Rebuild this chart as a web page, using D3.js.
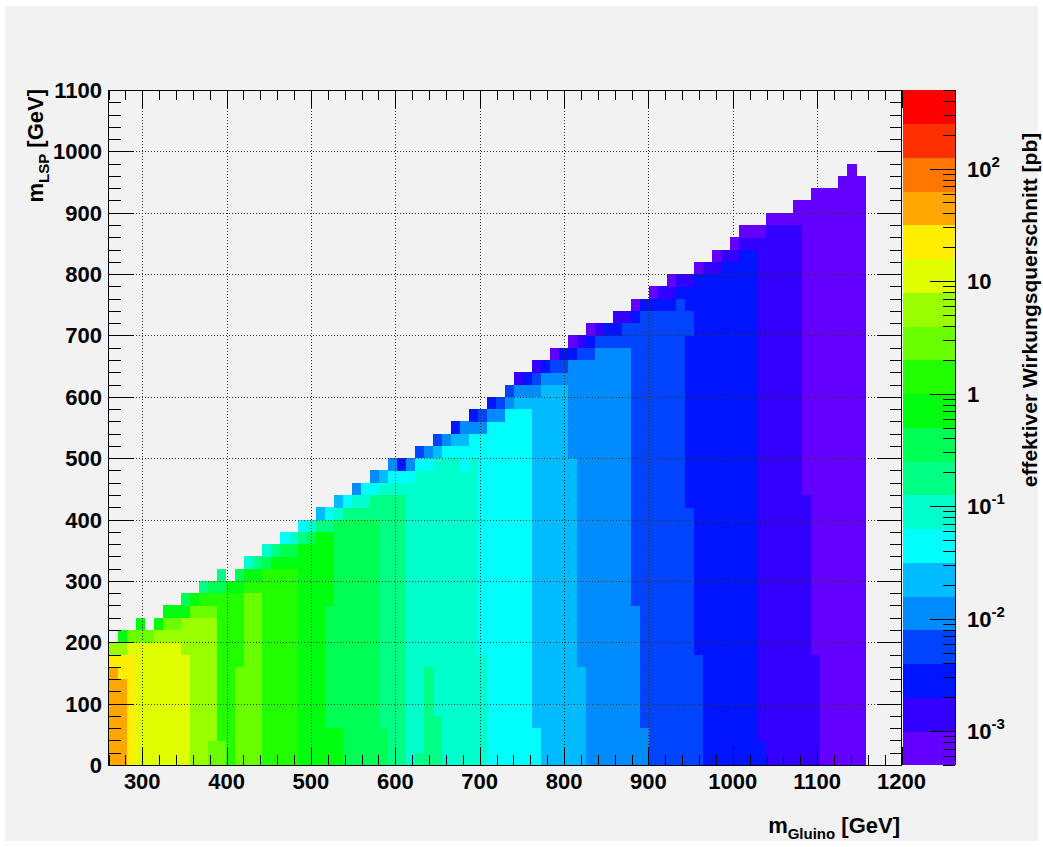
<!DOCTYPE html>
<html><head><meta charset="utf-8">
<script src="https://cdn.jsdelivr.net/npm/d3@7"></script>
<style>body{margin:0;background:#fff}svg{display:block}text{font-family:"Liberation Sans",Arial,Helvetica,sans-serif;font-weight:bold;fill:#000}</style>
</head><body><svg id="c" width="1043" height="847"></svg>
<script>
// ---------------- data ----------------
const xBinRange = [260, 1200];      // m_Gluino histogram range [GeV]
const nBinsX = 88;                   // x bins
const yBinWidth = 20;                // m_LSP bin width [GeV]
const zRange = [5e-4, 500];          // colour axis range [pb]
const nContours = 20;
const levelLetters = "abcdefghijklmnopqrst"; // a = lowest contour band ... t = highest
// one string per m_Gluino bin: runs of (band letter, number of 20 GeV bins) from m_LSP = 0 upwards
const columnRuns = [
 "q8p1n1","q7p2n1k1","p9o1m1","o10m1k1","o10m1","o10n1k1","o10n1m1k1","o10n1m1k1",
 "o9n3k1j1","n12m1k1","n12m1l1i1","m2n10m1l1j1","m2l12j1i1","l14k1","m8l6k1j1","m14l1k1h1",
 "m14l1k1i1","l16j1h1","l16k1i1","l16k1j1g1","l16k1j1h1","k18i1g1","k18j1h1","k19i1f1",
 "k3j10k6i1g1","k3j17h1f1","j20i1g1","j20i1h1e1","j20i1h1g1","j20i2g1e1","j3i19h1f1","i22h1g1e1",
 "i22h1g1c1","h23g1e1","i1h23g1d1","i8h16g1e1","i4h21f1d1","h25g1e1","h25g1f1c1","h24g2f1e1",
 "h25g2e1c1","h9g18e1d1","g28e1c1","g28e1d1","g29e1d1","g29f1e1b1","g29f1e1c1","g3f27e1d1b1",
 "f31e1c1","f31e1d1a1","f31e1d1c1","f25e8c1a1","f8e25d1b1","e33d1c1a1","e34d1b1","e34d1c1",
 "e34d1c1b1","e34d2b1","e13d23c1a1","e3d34c1","d37c1a1","d37c1b1","d37c1b1a1","d38c1b1",
 "d21c14d2c2b1","d9c31a1","c40b1","c40b1a1","c41b1","c41b1a1","c42b1a1","c42b1a1",
 "c2b41a1","b44a1","b44a1","b44a1","b44a2","b22a24","b9a38","a47",
 "a47","a48","a49","a48","","","",""
];
const xTickValues = [300,400,500,600,700,800,900,1000,1100,1200];
const yTickValues = [0,100,200,300,400,500,600,700,800,900,1000,1100];
const zTickBases = ["10","10","1","10","10","10"];
const zTickExps  = ["-3","-2","",  "-1","",  "2"];
const zTickValues = [1e-3,1e-2,1,1e-1,10,100];
const xTitle = ["m","Gluino"," [GeV]"];
const yTitle = ["m","LSP"," [GeV]"];
const zTitle = "effektiver Wirkungsquerschnitt [pb]";

// ---------------- layout ----------------
const W = 1043, H = 847;
const frame = {l:108.5, r:901.5, t:90, b:765};
const bar = {l:903, r:955};
const svg = d3.select("#c");

svg.append("rect").attr("x",5).attr("y",6).attr("width",W-10).attr("height",H-12).attr("fill","#f2f2f2");

const x = d3.scaleLinear().domain(xBinRange).range([frame.l, frame.r]);
const y = d3.scaleLinear().domain([0,1100]).range([frame.b, frame.t]);
const z = d3.scaleLog().domain(zRange).range([frame.b, frame.t]);

// ROOT "pretty palette" (violet -> red), 20 contour colours
const palette = d3.range(nContours).map(k => {
  const idx = Math.floor((k + 0.99) * 50 / nContours);
  return d3.hsl(280 - (idx + 1) * 5.6, 1, 0.5).formatHex();
});
const lz0 = Math.log10(zRange[0]), lz1 = Math.log10(zRange[1]);
const contourEdges = d3.range(nContours + 1).map(k => Math.pow(10, lz0 + k * (lz1 - lz0) / nContours));
const color = d3.scaleThreshold().domain(contourEdges.slice(1, -1)).range(palette);
const bandValue = k => Math.sqrt(contourEdges[k] * contourEdges[k + 1]);

// decode runs into cells
const binW = (xBinRange[1] - xBinRange[0]) / nBinsX;
const cells = [];
columnRuns.forEach((s, i) => {
  let row = 0;
  const re = /([a-t])(\d+)/g; let m;
  while ((m = re.exec(s)) !== null) {
    const n = +m[2];
    cells.push({x0: xBinRange[0] + i * binW, x1: xBinRange[0] + (i + 1) * binW,
                y0: row * yBinWidth, y1: (row + n) * yBinWidth,
                v: bandValue(levelLetters.indexOf(m[1]))});
    row += n;
  }
});

const g = svg.append("g").attr("shape-rendering","crispEdges");
g.selectAll("rect.cell").data(cells).join("rect").attr("class","cell")
  .attr("x", d => x(d.x0)).attr("width", d => x(d.x1) - x(d.x0) + 0.3)
  .attr("y", d => y(d.y1)).attr("height", d => y(d.y0) - y(d.y1) + 0.3)
  .attr("fill", d => color(d.v));

// grid
const grid = svg.append("g").attr("stroke","#333").attr("stroke-width",1).attr("stroke-dasharray","1,2").attr("shape-rendering","crispEdges");
xTickValues.filter(v => v < 1200).forEach(v => grid.append("line").attr("x1",Math.round(x(v))+0.5).attr("x2",Math.round(x(v))+0.5).attr("y1",frame.t).attr("y2",frame.b));
yTickValues.filter(v => v > 0 && v < 1100).forEach(v => grid.append("line").attr("y1",Math.round(y(v))+0.5).attr("y2",Math.round(y(v))+0.5).attr("x1",frame.l).attr("x2",frame.r));

// ticks
const tk = svg.append("g").attr("stroke","#000").attr("stroke-width",1).attr("shape-rendering","crispEdges");
const xMinor = d3.range(260, 1201, 20);
xMinor.forEach(v => {
  const major = v % 100 === 0;
  const L = major ? 18 : 10, px = Math.round(x(v)) + 0.5;
  tk.append("line").attr("x1",px).attr("x2",px).attr("y1",frame.b).attr("y2",frame.b - L);
  tk.append("line").attr("x1",px).attr("x2",px).attr("y1",frame.t).attr("y2",frame.t + L);
});
const yMinor = d3.range(0, 1101, 20);
yMinor.forEach(v => {
  const major = v % 100 === 0;
  const L = major ? 25 : 12, py = Math.round(y(v)) + 0.5;
  tk.append("line").attr("y1",py).attr("y2",py).attr("x1",frame.l).attr("x2",frame.l + L);
  tk.append("line").attr("y1",py).attr("y2",py).attr("x1",frame.r).attr("x2",frame.r - L);
});

// frame
svg.append("rect").attr("x",frame.l).attr("y",frame.t).attr("width",frame.r-frame.l).attr("height",frame.b-frame.t)
  .attr("fill","none").attr("stroke","#000").attr("stroke-width",1).attr("shape-rendering","crispEdges");

// tick labels
xTickValues.forEach(v => svg.append("text").attr("x",x(v)).attr("y",789).attr("text-anchor","middle").attr("font-size",22).text(v));
yTickValues.forEach(v => svg.append("text").attr("x",102).attr("y",y(v)+8).attr("text-anchor","end").attr("font-size",22).text(v));

// axis titles
const xt = svg.append("text").attr("x",900).attr("y",833).attr("text-anchor","end").attr("font-size",22);
xt.append("tspan").text(xTitle[0]);
xt.append("tspan").attr("font-size",15).attr("dy",6).text(xTitle[1]);
xt.append("tspan").attr("dy",-6).text(xTitle[2]);
const yt = svg.append("text").attr("transform","translate(43,89) rotate(-90)").attr("text-anchor","end").attr("font-size",22);
yt.append("tspan").text(yTitle[0]);
yt.append("tspan").attr("font-size",15).attr("dy",6).text(yTitle[1]);
yt.append("tspan").attr("dy",-6).text(yTitle[2]);

// colour bar
const cb = svg.append("g").attr("shape-rendering","crispEdges");
cb.selectAll("rect").data(d3.range(nContours)).join("rect")
  .attr("x",bar.l).attr("width",bar.r-bar.l)
  .attr("y",k => z(contourEdges[k+1])).attr("height",k => z(contourEdges[k]) - z(contourEdges[k+1]) + 0.3)
  .attr("fill",k => palette[k]);
cb.append("line").attr("x1",bar.r+0.5).attr("x2",bar.r+0.5).attr("y1",frame.t).attr("y2",frame.b).attr("stroke","#000");
const zt = [];
for (let e = -4; e <= 2; e++) for (let m = 1; m <= 9; m++) { const v = m * Math.pow(10, e); if (v >= zRange[0] && v <= zRange[1]) zt.push({v, major: m === 1}); }
zt.forEach(t => {
  const py = Math.round(z(t.v)) + 0.5;
  cb.append("line").attr("x1",bar.r).attr("x2",bar.r - (t.major ? 25 : 12)).attr("y1",py).attr("y2",py).attr("stroke","#000");
});
zTickValues.forEach((v, i) => {
  const t = svg.append("text").attr("x",967).attr("y",z(v)+8).attr("font-size",22);
  t.append("tspan").text(zTickBases[i]);
  if (zTickExps[i]) t.append("tspan").attr("font-size",15).attr("dy",-10).text(zTickExps[i]);
});
svg.append("text").attr("transform","translate(1037,310) rotate(-90)").attr("text-anchor","middle").attr("font-size",21).text(zTitle);
</script></body></html>
